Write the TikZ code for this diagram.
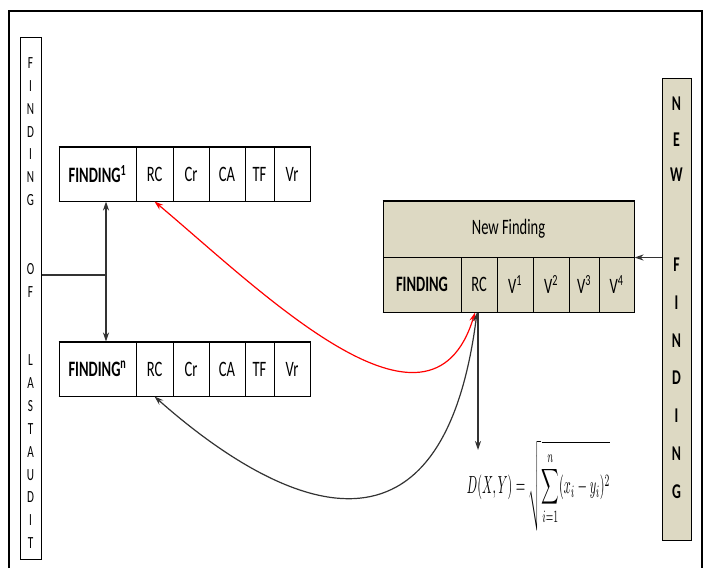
\documentclass[tikz,border=0pt]{standalone}
\usepackage{fontspec}
\usepackage{tikz}
\usetikzlibrary{calc, arrows.meta, positioning}
\setmainfont{Carlito}
\newfontfamily\cellfont[FakeStretch=0.66]{Carlito}
\definecolor{tanfill}{HTML}{DDD9C3}

\tikzset{
  cell/.style={draw, line width=1pt, minimum height=54pt, inner sep=0pt, font=\cellfont\fontsize{22}{26}\selectfont},
  tancell/.style={cell, fill=tanfill, minimum height=55pt},
  auditletter/.style={inner sep=0pt, font=\cellfont\fontsize{17}{20}\selectfont},
  newletter/.style={inner sep=0pt, font=\cellfont\bfseries\fontsize{21}{24}\selectfont},
  link/.style={line width=1.2pt, black!80}
}

\begin{document}
\begin{tikzpicture}[x=1pt, y=-1pt, >={Stealth[length=9pt, width=6pt]}]
\useasboundingbox (0,0) rectangle (707,568);
\draw[line width=2.5pt] (9,568) -- (9,11) -- (702,11) -- (702,568);

% left strip
\node[draw, line width=1pt, minimum width=21pt, minimum height=522pt] (lastaudit) at (30.5,298) {};
\foreach \ch/\yy [count=\k] in {F/63, I/86, N/109, D/132, I/154, N/177, G/200, O/269, F/292, L/360, A/383, S/406, T/429, A/452, U/475, D/497, I/520, T/543}
  \node[auditletter] (la\k) at (30.5,\yy) {\ch};

% right strip
\node[draw, line width=1pt, fill=tanfill, minimum width=29pt, minimum height=462pt] (newstrip) at (676.5,309) {};
\foreach \ch/\yy [count=\k] in {N/104, E/140, W/175, F/265, I/303, N/341, D/378, I/416, N/454, G/492}
  \node[newletter] (nl\k) at (676.5,\yy) {\ch};

% finding 1
\begin{scope}[shift={(0,174)}]
  \node[cell, minimum width=77pt] (f1name) at (97.5,0) {\bfseries FINDING\textsuperscript{1}};
  \node[cell, minimum width=37pt] (f1rc) at (154.5,0) {RC};
  \node[cell, minimum width=36pt] (f1cr) at (191,0) {Cr};
  \node[cell, minimum width=36pt] (f1ca) at (227,0) {CA};
  \node[cell, minimum width=29pt] (f1tf) at (259.5,0) {TF};
  \node[cell, minimum width=36pt] (f1vr) at (292,0) {Vr};
\end{scope}
\draw[line width=1.8pt] (f1name.north west) -- (f1vr.north east);
\draw[line width=1.8pt] (f1name.south west) -- (f1vr.south east);

% finding n
\begin{scope}[shift={(0,369)}]
  \node[cell, minimum width=77pt] (fnname) at (97.5,0) {\bfseries FINDING\textsuperscript{n}};
  \node[cell, minimum width=37pt] (fnrc) at (154.5,0) {RC};
  \node[cell, minimum width=36pt] (fncr) at (191,0) {Cr};
  \node[cell, minimum width=36pt] (fnca) at (227,0) {CA};
  \node[cell, minimum width=29pt] (fntf) at (259.5,0) {TF};
  \node[cell, minimum width=36pt] (fnvr) at (292,0) {Vr};
\end{scope}
\draw[line width=1.8pt] (fnname.north west) -- (fnvr.north east);
\draw[line width=1.8pt] (fnname.south west) -- (fnvr.south east);

% new finding
\node[tancell, minimum width=251pt, minimum height=56pt] (nfhead) at (508.5,229) {New Finding};
\begin{scope}[shift={(0,284.5)}]
  \node[tancell, minimum width=78pt] (nfname) at (422,0) {\bfseries FINDING};
  \node[tancell, minimum width=36pt] (nrc) at (479,0) {RC};
  \node[tancell, minimum width=36pt] (nv1) at (515,0) {V\textsuperscript{1}};
  \node[tancell, minimum width=36pt] (nv2) at (551,0) {V\textsuperscript{2}};
  \node[tancell, minimum width=30pt] (nv3) at (584,0) {V\textsuperscript{3}};
  \node[tancell, minimum width=35pt] (nv4) at (616.5,0) {V\textsuperscript{4}};
\end{scope}
\draw[line width=1.8pt] (nfhead.north west) -- (nfhead.north east);
\draw[line width=1.8pt] (nfname.south west) -- (nv4.south east);

\node (dist) at (538.5,486) {\resizebox*{143pt}{90pt}{$\displaystyle D(X,Y)=\sqrt{\sum_{i=1}^{n}(x_i-y_i)^2}$}};

% connectors
\coordinate (ofjoin) at (106,275);
\draw[link, <->] ($(f1name.south)+(8.5,0)$) -- ($(fnname.north)+(8.5,0)$);
\draw[link] (lastaudit.east |- ofjoin) -- (ofjoin);
\draw[link, ->] (newstrip.west |- nfhead.south) -- (nfhead.south east);
\draw[link, <->, red] (f1rc.south) .. controls (260,290) and (430,460) .. ($(nrc.south)+(-4,0)$);
\draw[link, <->] (fnrc.south) .. controls (260,490) and (440,600) .. ($(nrc.south)+(-2,0)$);
\coordinate (disttip) at (478,450);
\draw[link, ->] ($(nrc.south)+(-1,0)$) -- (disttip);
\end{tikzpicture}
\end{document}
